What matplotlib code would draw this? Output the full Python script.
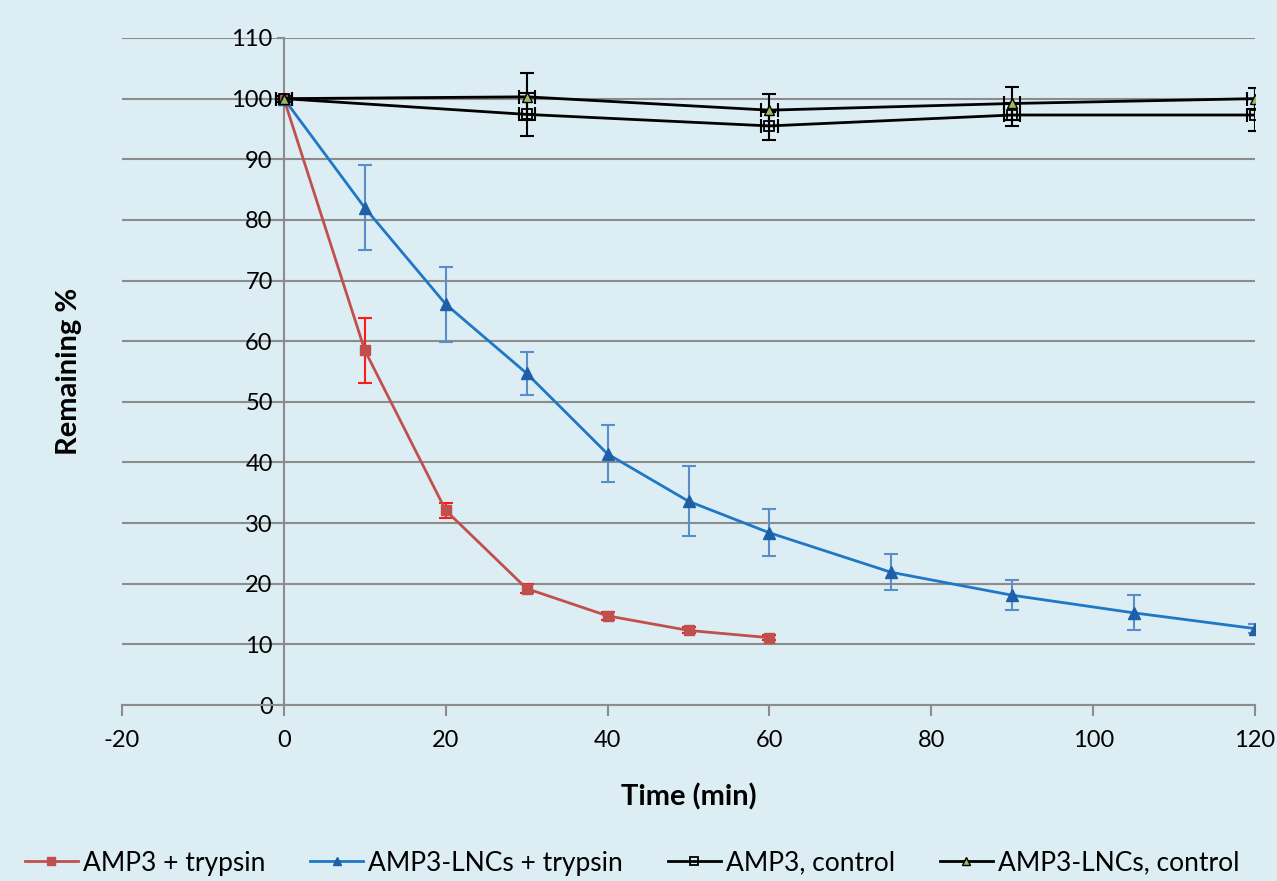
import matplotlib
matplotlib.use("Agg")
import matplotlib.pyplot as plt

plt.rcParams['font.family'] = ['Lato', 'DejaVu Sans']
plt.rcParams['axes.unicode_minus'] = False

# Data
t_red = [0, 10, 20, 30, 40, 50, 60]
red = [100, 58.5, 32.1, 19.2, 14.7, 12.3, 11.1]
red_err = [0, 5.4, 1.2, 0.8, 0.6, 0.5, 0.4]

t_blue = [0, 10, 20, 30, 40, 50, 60, 75, 90, 105, 120]
blue = [100, 82.0, 66.1, 54.7, 41.4, 33.6, 28.4, 21.9, 18.1, 15.2, 12.6]
blue_err = [0, 7.0, 6.2, 3.5, 4.7, 5.8, 3.9, 3.0, 2.5, 2.9, 0.8]

t_ctrl = [0, 30, 60, 90, 120]
amp3_ctrl = [100, 97.4, 95.5, 97.3, 97.3]
amp3_ctrl_err = [0.5, 3.6, 2.3, 1.8, 2.6]
lnc_ctrl = [100, 100.3, 98.1, 99.2, 100.0]
lnc_ctrl_err = [0.5, 3.9, 2.6, 2.8, 1.7]
ctrl_xerr = [1, 1, 1, 1, 1]

labels = ["AMP3 + trypsin", "AMP3-LNCs + trypsin", "AMP3, control", "AMP3-LNCs, control"]

bg = "#dcedf3"
fig = plt.figure(figsize=(12.77, 8.81), dpi=100, facecolor=bg)
ax = fig.add_axes([122/1277, 1-705/881, (1255-122)/1277, (705-38)/881])
ax.set_facecolor(bg)

ax.set_xlim(-20, 120)
ax.set_ylim(0, 110)
ax.set_xticks(range(-20, 121, 20))
ax.set_yticks(range(0, 111, 10))
ax.grid(axis='y', color='#8c8c8c', linewidth=1.5, zorder=0)
ax.set_axisbelow(True)

for s in ['top', 'right']:
    ax.spines[s].set_visible(False)
ax.spines['left'].set_position(('data', 0))
ax.spines['bottom'].set_position(('data', 0))
for s in ['left', 'bottom']:
    ax.spines[s].set_color('#8c8c8c')
    ax.spines[s].set_linewidth(1.5)
ax.tick_params(axis='x', direction='out', length=8, width=1.5, color='#8c8c8c',
               labelsize=17, pad=10)
ax.tick_params(axis='y', direction='out', length=5, width=1.5, color='#8c8c8c',
               labelsize=17, pad=3)

red_c = '#c0504d'
blue_c = '#1f77c8'
# error bars
ax.errorbar(t_red, red, yerr=red_err, fmt='none', ecolor='#ff1a1a', elinewidth=1.5,
            capsize=5, capthick=1.5, zorder=3)
ax.errorbar(t_blue, blue, yerr=blue_err, fmt='none', ecolor='#5b8ec9', elinewidth=1.5,
            capsize=5, capthick=1.5, zorder=3)
ax.errorbar(t_ctrl, amp3_ctrl, yerr=amp3_ctrl_err, xerr=ctrl_xerr, fmt='none', ecolor='black',
            elinewidth=1.5, capsize=5, capthick=1.5, zorder=3)
ax.errorbar(t_ctrl, lnc_ctrl, yerr=lnc_ctrl_err, xerr=ctrl_xerr, fmt='none', ecolor='black',
            elinewidth=1.5, capsize=5, capthick=1.5, zorder=3)

ax.plot(t_red, red, color=red_c, lw=2, marker='s', ms=7, mfc=red_c, mec=red_c,
        label=labels[0], zorder=4)
ax.plot(t_blue, blue, color=blue_c, lw=2, marker='^', ms=8, mfc='#1f5fa8', mec='#1f5fa8',
        label=labels[1], zorder=4)
ax.plot(t_ctrl, amp3_ctrl, color='black', lw=2, marker='s', ms=7, mfc='none', mec='black',
        mew=1.3, label=labels[2], zorder=5)
ax.plot(t_ctrl, lnc_ctrl, color='black', lw=2, marker='^', ms=7, mfc='#9bbb59', mec='black',
        mew=1, label=labels[3], zorder=5)

ax.set_xlabel("Time (min)", fontsize=21, fontweight='bold')
ax.set_ylabel("Remaining %", fontsize=21, fontweight='bold')
ax.yaxis.set_label_coords(-0.035, 0.5)
ax.xaxis.set_label_coords(0.5, -0.118)

leg = fig.legend(loc='center', bbox_to_anchor=(0.495, 0.0204), ncol=4, frameon=False,
                 fontsize=19, handlelength=2.0, columnspacing=1.7, handletextpad=0.2,
                 markerscale=0.8)

fig.savefig("out.png", dpi=100, facecolor=bg)
